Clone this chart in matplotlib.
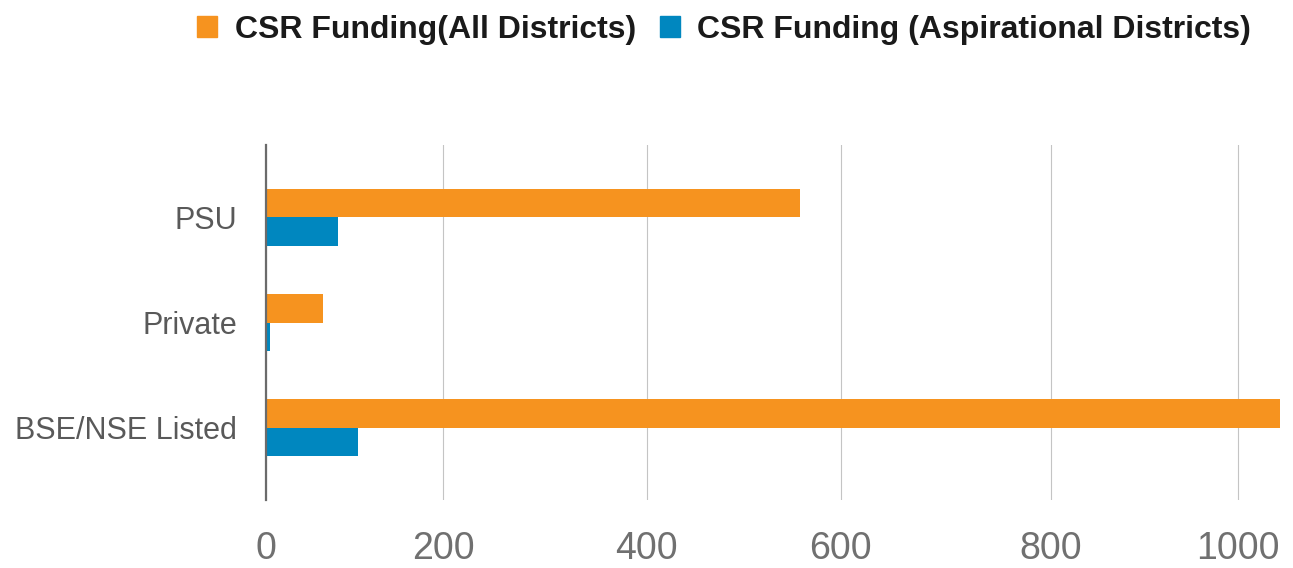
import numpy as np
import matplotlib
matplotlib.use("Agg")
import matplotlib.pyplot as plt
from matplotlib.patches import Patch

# ---- data ----
categories = ["PSU", "Private", "BSE/NSE Listed"]
all_districts = [558, 64, 1044]
aspirational = [81, 4.5, 104]
series_names = ["CSR Funding(All Districts)", "CSR Funding (Aspirational Districts)"]
tick_values = [0, 200, 400, 600, 800, 1000]
tick_labels = ["0", "200", "400", "600", "800", "1000"]

# ---- style ----
W, H = 1293, 568
ORANGE = "#F6931F"
BLUE = "#0087BF"

# the reference axis is unevenly spaced: piecewise-linear scale
_vals = np.array([0, 200, 400, 600, 800, 1000], dtype=float)
_pix = np.array([266, 443, 646.7, 840.7, 1050.7, 1238.3])


def fwd(v):
    v = np.asarray(v, dtype=float)
    out = np.interp(v, _vals, _pix)
    lo_s = (_pix[1] - _pix[0]) / (_vals[1] - _vals[0])
    hi_s = (_pix[-1] - _pix[-2]) / (_vals[-1] - _vals[-2])
    out = np.where(v < _vals[0], _pix[0] + (v - _vals[0]) * lo_s, out)
    out = np.where(v > _vals[-1], _pix[-1] + (v - _vals[-1]) * hi_s, out)
    return out


def inv(p):
    p = np.asarray(p, dtype=float)
    out = np.interp(p, _pix, _vals)
    lo_s = (_pix[1] - _pix[0]) / (_vals[1] - _vals[0])
    hi_s = (_pix[-1] - _pix[-2]) / (_vals[-1] - _vals[-2])
    out = np.where(p < _pix[0], _vals[0] + (p - _pix[0]) / lo_s, out)
    out = np.where(p > _pix[-1], _vals[-1] + (p - _pix[-1]) / hi_s, out)
    return out


fig = plt.figure(figsize=(W / 100, H / 100), dpi=100)
ax_left, ax_right = 266 / W, 1290 / W
ax_top, ax_bot = 145, 500
ax = fig.add_axes([ax_left, 1 - ax_bot / H, ax_right - ax_left, (ax_bot - ax_top) / H])
ax.set_xscale("function", functions=(fwd, inv))

y = np.arange(len(categories))
h = 0.272
ax.barh(y - h / 2, all_districts, height=h, color=ORANGE, zorder=2)
ax.barh(y + h / 2, aspirational, height=h, color=BLUE, zorder=2)

ax.set_xlim(0, float(inv(1290)))
ax.set_ylim(len(categories) - 1 + 0.69, -0.69)

ax.set_xticks(tick_values)
ax.set_xticklabels(tick_labels)
ax.set_yticks(y)
ax.set_yticklabels(categories)

for s in ["top", "right", "bottom"]:
    ax.spines[s].set_visible(False)
ax.spines["left"].set_color("#6b6b6b")
ax.spines["left"].set_linewidth(1.6)
ax.spines["left"].set_zorder(3)

ax.grid(axis="x", color="#c4c4c4", linewidth=0.8, zorder=1)
ax.set_axisbelow(True)

ax.tick_params(axis="both", length=0)
ax.tick_params(axis="x", pad=22, labelsize=27, labelcolor="#707070")
ax.tick_params(axis="y", pad=21, labelsize=22, labelcolor="#595959")
for lab in ax.get_xticklabels():
    lab.set_family(["Liberation Sans Narrow", "Liberation Sans", "DejaVu Sans"])
for lab in ax.get_yticklabels():
    lab.set_family(["Liberation Sans", "DejaVu Sans"])

handles = [Patch(color=ORANGE), Patch(color=BLUE)]
fig.legend(handles, series_names, loc="upper right", bbox_to_anchor=(1280 / W, 1 + 14 / H),
           ncol=2, frameon=False,
           prop={"family": ["Liberation Sans Narrow", "Liberation Sans", "DejaVu Sans"],
                 "weight": "bold", "size": 23},
           handlelength=0.62, handleheight=0.62, handletextpad=0.55, columnspacing=0.75,
           labelcolor="#1a1a1a")

fig.savefig("out.png", dpi=100)
